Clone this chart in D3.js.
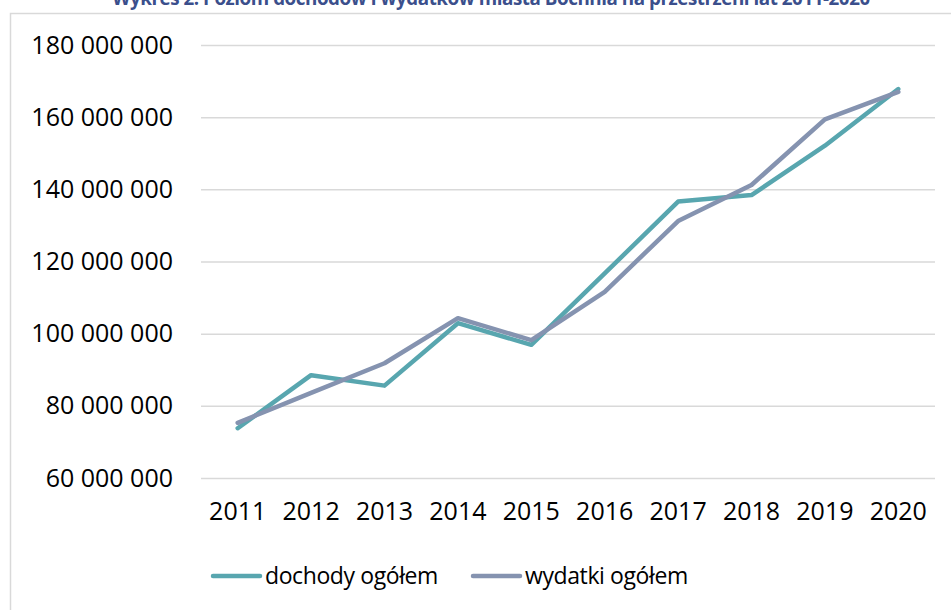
<!DOCTYPE html>
<html lang="pl">
<head>
    <meta charset="UTF-8">
    <script src="https://d3js.org/d3.v7.min.js"></script>
    <title>Wykres 2</title>
    <style>
        body { margin: 0; background: #fff; }
    </style>
</head>
<body>
    <svg id="chart"></svg>
    <script>
        const title = "Wykres 2. Poziom dochodów i wydatków miasta Bochnia na przestrzeni lat 2011-2020";
        const years = ["2011","2012","2013","2014","2015","2016","2017","2018","2019","2020"];
        const dochody = [73800000, 88500000, 85600000, 102900000, 96900000, 116700000, 136600000, 138400000, 152100000, 167800000];
        const wydatki = [75300000, 83600000, 91800000, 104300000, 98200000, 111600000, 131200000, 141200000, 159400000, 167000000];
        const yTicks = [60000000, 80000000, 100000000, 120000000, 140000000, 160000000, 180000000];
        const seriesNames = ["dochody ogółem", "wydatki ogółem"];
        const colors = ["#58a6af", "#8593b0"];

        const width = 951, height = 610;
        const margin = {top: 45, right: 16, bottom: 132, left: 201};
        const font = "'Open Sans', sans-serif";

        const svg = d3.select("#chart").attr("width", width).attr("height", height)
            .style("font-family", font);

        // ramka wykresu
        svg.append("path")
            .attr("d", `M10.5,${height} V13.5 H${width}`)
            .attr("fill", "none").attr("stroke", "#d9d9d9").attr("stroke-width", 1.5);

        // tytuł - w oryginale ucięty u góry
        svg.append("text")
            .attr("x", 491).attr("y", 5)
            .attr("text-anchor", "middle")
            .attr("font-family", font)
            .attr("font-weight", "bold").attr("font-size", 18.8)
            .attr("letter-spacing", -0.45)
            .attr("fill", "#3b4f8c")
            .text(title);

        const x = d3.scaleBand().domain(years)
            .range([margin.left, width - margin.right]);
        const y = d3.scaleLinear().domain([60000000, 180000000])
            .range([height - margin.bottom, margin.top]);

        const fmt = v => d3.format(",")(v).replace(/,/g, " ");

        // siatka + etykiety osi Y
        svg.append("g")
            .attr("transform", `translate(${margin.left},0)`)
            .call(d3.axisLeft(y).tickValues(yTicks).tickFormat(fmt)
                .tickSize(-(width - margin.left - margin.right)).tickPadding(28))
            .call(g => g.select(".domain").remove())
            .call(g => g.selectAll("line").attr("stroke", "#d9d9d9").attr("stroke-width", 1.5))
            .call(g => g.selectAll("text").attr("font-family", font).attr("font-size", 25).attr("fill", "#000"));

        // etykiety osi X
        svg.append("g")
            .attr("transform", `translate(0,${height - margin.bottom})`)
            .call(d3.axisBottom(x).tickSize(0).tickPadding(24))
            .call(g => g.select(".domain").remove())
            .call(g => g.selectAll("text").attr("font-family", font).attr("font-size", 25).attr("fill", "#000"));

        const line = d3.line()
            .x((d, i) => x(years[i]) + x.bandwidth() / 2)
            .y(d => y(d));

        [dochody, wydatki].forEach((s, k) => {
            svg.append("path")
                .attr("d", line(s))
                .attr("fill", "none")
                .attr("stroke", colors[k])
                .attr("stroke-width", 4.5)
                .attr("stroke-linecap", "round")
                .attr("stroke-linejoin", "round");
        });

        // legenda
        const legendX = [213, 473];
        const legendY = 576;
        seriesNames.forEach((name, k) => {
            const g = svg.append("g").attr("transform", `translate(${legendX[k]},${legendY})`);
            g.append("line").attr("x1", 0).attr("x2", 47).attr("y1", 0).attr("y2", 0)
                .attr("stroke", colors[k]).attr("stroke-width", 4.5).attr("stroke-linecap", "round");
            g.append("text").attr("x", 52).attr("y", 0).attr("dy", "0.35em")
                .attr("font-size", 23).attr("letter-spacing", -0.4)
                .attr("fill", "#000").text(name);
        });
    </script>
</body>
</html>
